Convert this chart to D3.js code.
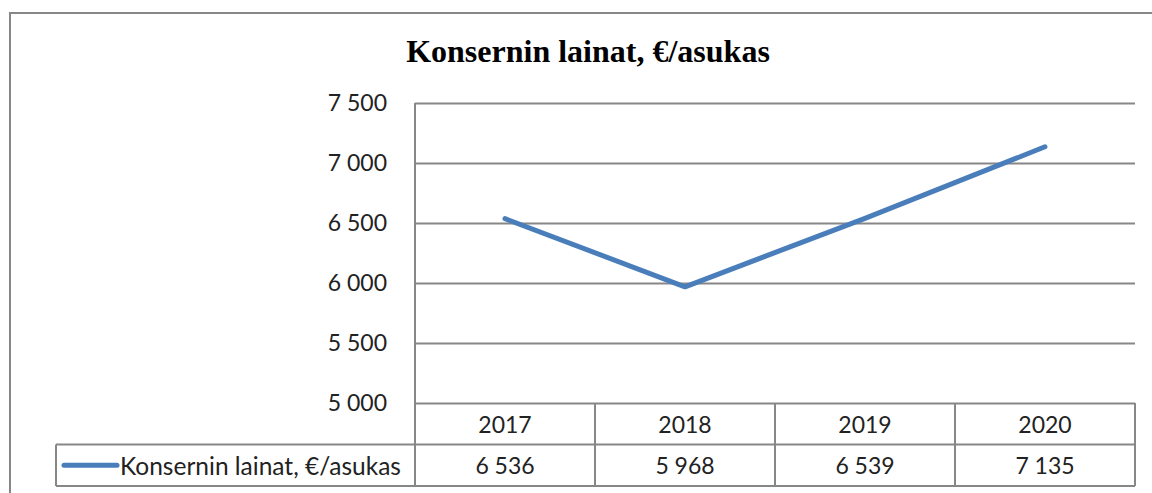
<!DOCTYPE html>
<html>
<head>
<meta charset="utf-8">
<script src="https://cdn.jsdelivr.net/npm/d3@7"></script>
<style>
  body { margin: 0; background: #fff; }
  svg { display: block; }
</style>
</head>
<body>
<div id="chart"></div>
<script>
var years = ["2017", "2018", "2019", "2020"];
var values = [6536, 5968, 6539, 7135];
var yTicks = [5000, 5500, 6000, 6500, 7000, 7500];
var seriesName = "Konsernin lainat, €/asukas";
var title = "Konsernin lainat, €/asukas";

var width = 1152, height = 493;
var plotLeft = 415, plotRight = 1135, plotTop = 103, plotBottom = 403;
var rowH = 41.5;
var gridColor = "#878787";
var lineColor = "#4a7ebb";
var labelFont = "Lato, 'Open Sans', sans-serif";
var labelSize = "23px";

var svg = d3.select("#chart")
  .append("svg")
  .attr("width", width)
  .attr("height", height);

// outer chart frame (runs past window edge)
svg.append("rect")
  .attr("x", 10).attr("y", 13)
  .attr("width", 1200).attr("height", 600)
  .style("fill", "none")
  .style("stroke", gridColor)
  .style("stroke-width", 2);

svg.append("text")
  .attr("x", 588)
  .attr("y", 62)
  .style("font-family", "'Liberation Serif', 'Times New Roman', serif")
  .style("font-weight", "bold")
  .style("font-size", "32px")
  .style("text-anchor", "middle")
  .text(title);

var x = d3.scaleBand()
  .domain(years)
  .range([plotLeft, plotRight]);

var y = d3.scaleLinear()
  .domain([5000, 7500])
  .range([plotBottom, plotTop]);

function fmt(d) { return d3.format(",")(d).replace(",", " "); }

// horizontal grid
var yAxis = d3.axisLeft(y)
  .tickValues(yTicks)
  .tickSize(-(plotRight - plotLeft))
  .tickPadding(28)
  .tickFormat(fmt);

var gy = svg.append("g")
  .attr("transform", "translate(" + plotLeft + ",0)")
  .call(yAxis);
gy.select(".domain").remove();
gy.selectAll(".tick line")
  .attr("x1", 0)
  .attr("x2", plotRight - plotLeft)
  .style("stroke", gridColor)
  .style("stroke-width", 2);
gy.selectAll(".tick text")
  .attr("x", -28)
  .style("font-family", labelFont)
  .style("font-size", labelSize)
  .style("fill", "#222");

// data table
var tbl = svg.append("g")
  .style("stroke", gridColor)
  .style("stroke-width", 2)
  .style("fill", "none");

tbl.append("line")
  .attr("x1", plotLeft).attr("x2", plotLeft)
  .attr("y1", plotTop).attr("y2", plotBottom + 2 * rowH);
tbl.append("line")
  .attr("x1", 56).attr("x2", plotRight)
  .attr("y1", plotBottom + rowH).attr("y2", plotBottom + rowH);
tbl.append("line")
  .attr("x1", 56).attr("x2", plotRight)
  .attr("y1", plotBottom + 2 * rowH).attr("y2", plotBottom + 2 * rowH);
tbl.append("line")
  .attr("x1", 56).attr("x2", 56)
  .attr("y1", plotBottom + rowH).attr("y2", plotBottom + 2 * rowH);
tbl.selectAll("line.sep")
  .data(years)
  .enter().append("line")
  .attr("class", "sep")
  .attr("x1", function (d) { return x(d) + x.bandwidth(); })
  .attr("x2", function (d) { return x(d) + x.bandwidth(); })
  .attr("y1", plotBottom).attr("y2", plotBottom + 2 * rowH);

svg.selectAll("text.year")
  .data(years)
  .enter().append("text")
  .attr("class", "year")
  .attr("x", function (d) { return x(d) + x.bandwidth() / 2; })
  .attr("y", plotBottom + rowH / 2)
  .attr("dominant-baseline", "central")
  .style("text-anchor", "middle")
  .style("font-family", labelFont)
  .style("font-size", labelSize)
  .style("fill", "#222")
  .text(function (d) { return d; });

svg.selectAll("text.val")
  .data(values)
  .enter().append("text")
  .attr("class", "val")
  .attr("x", function (d, i) { return x(years[i]) + x.bandwidth() / 2; })
  .attr("y", plotBottom + rowH * 1.5)
  .attr("dominant-baseline", "central")
  .style("text-anchor", "middle")
  .style("font-family", labelFont)
  .style("font-size", labelSize)
  .style("fill", "#222")
  .text(fmt);

// legend key
svg.append("line")
  .attr("x1", 64).attr("x2", 117)
  .attr("y1", plotBottom + rowH * 1.5).attr("y2", plotBottom + rowH * 1.5)
  .style("stroke", lineColor)
  .style("stroke-width", 5)
  .style("stroke-linecap", "round");
svg.append("text")
  .attr("x", 120)
  .attr("y", plotBottom + rowH * 1.5)
  .attr("dominant-baseline", "central")
  .style("font-family", labelFont)
  .style("font-size", "24.5px")
  .style("fill", "#222")
  .text(seriesName);

// series line
var line = d3.line()
  .x(function (d, i) { return x(years[i]) + x.bandwidth() / 2; })
  .y(function (d) { return y(d); });

svg.append("path")
  .datum(values)
  .attr("d", line)
  .style("fill", "none")
  .style("stroke", lineColor)
  .style("stroke-width", 5)
  .style("stroke-linecap", "round")
  .style("stroke-linejoin", "round");
</script>
</body>
</html>
